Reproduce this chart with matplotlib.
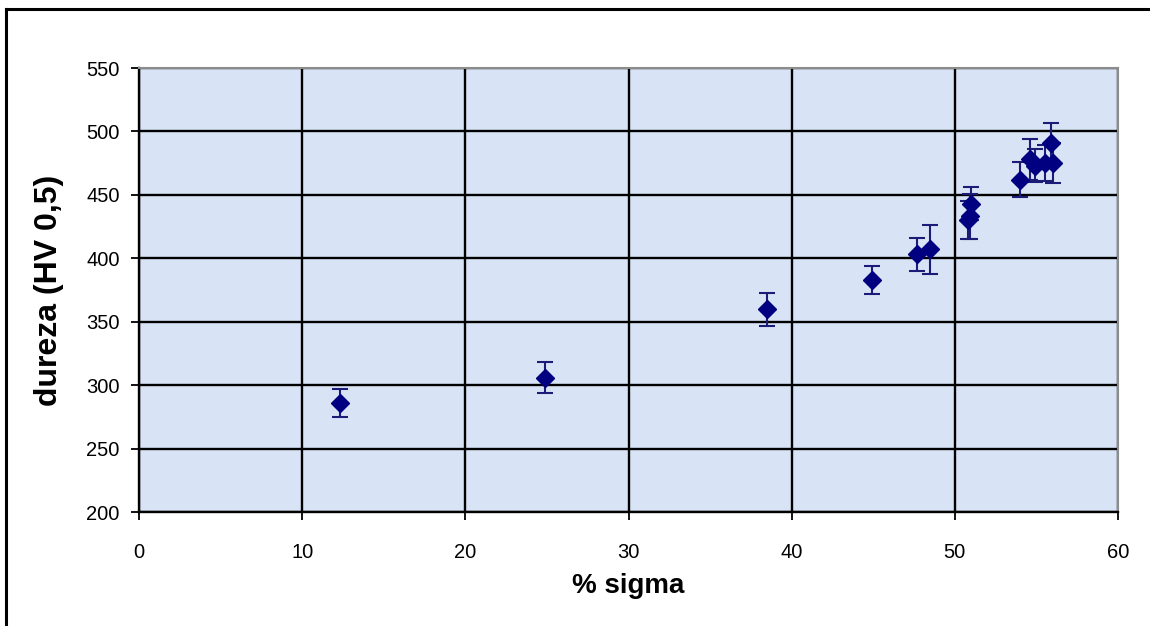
import matplotlib.pyplot as plt
from matplotlib.lines import Line2D

# % sigma, hardness HV 0.5 and error
sigma = [12.3, 24.9, 38.5, 44.9, 47.7, 48.5, 50.8, 50.9, 51.0, 54.0, 54.6, 54.9, 55.5, 55.9, 56.0]
dureza = [286, 306, 360, 383, 403, 407, 430, 433, 443, 462, 478, 473, 475, 491, 475]
erro = [11, 12, 13, 11, 13, 19, 15, 18, 13, 14, 16, 13, 14, 16, 16]

x_ticks = [0, 10, 20, 30, 40, 50, 60]
y_ticks = [200, 250, 300, 350, 400, 450, 500, 550]

plt.rcParams['font.family'] = ['Liberation Sans', 'DejaVu Sans']

fig = plt.figure(figsize=(11.5, 6.26), dpi=100)
ax = fig.add_axes([139 / 1150, 1 - 512 / 626, (1118 - 139) / 1150, (512 - 68) / 626])
ax.set_facecolor('#d8e4f5')

ax.errorbar(sigma, dureza, yerr=erro, fmt='D', color='#000080', ecolor='#1c1c78',
            markersize=9, elinewidth=1.5, capsize=6, capthick=1.5, zorder=5)

ax.set_xlim(0, 60)
ax.set_ylim(200, 550)
ax.set_xticks(x_ticks)
ax.set_yticks(y_ticks)
ax.grid(True, color='black', linewidth=1.7, zorder=1)
ax.set_axisbelow(True)

for side in ['top', 'right']:
    ax.spines[side].set_color('#8c8c8c')
    ax.spines[side].set_linewidth(1.5)
for side in ['left', 'bottom']:
    ax.spines[side].set_color('black')
    ax.spines[side].set_linewidth(1.7)

ax.tick_params(axis='x', direction='out', length=6, width=1.3, pad=16, labelsize=14.5)
ax.tick_params(axis='y', direction='out', length=6, width=1.3, pad=8, labelsize=14.5)

ax.set_xlabel('% sigma', fontsize=20, fontweight='bold', labelpad=8)
ax.set_ylabel('dureza (HV 0,5)', fontsize=23, fontweight='bold', labelpad=16)

# outer chart border (top and left visible)
fig.add_artist(Line2D([6 / 1150, 1], [1 - 9 / 626, 1 - 9 / 626], color='black', linewidth=2.2))
fig.add_artist(Line2D([6 / 1150, 6 / 1150], [0, 1 - 9 / 626], color='black', linewidth=2.2))

fig.savefig('out.png', dpi=100)
